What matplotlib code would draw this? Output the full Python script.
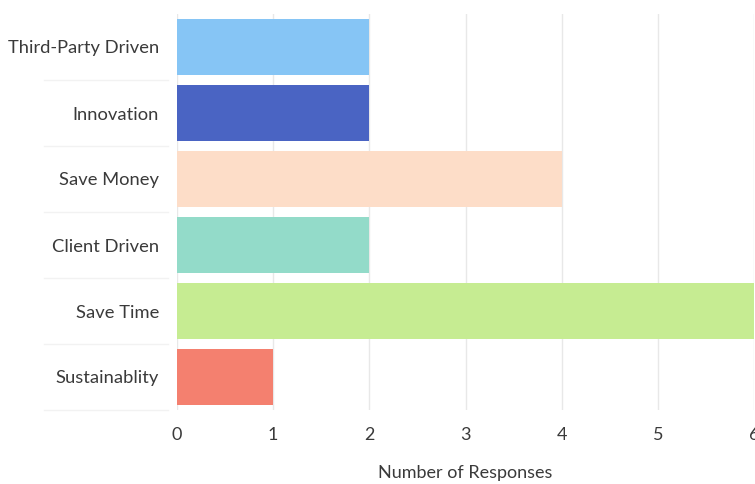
import matplotlib.pyplot as plt
import matplotlib.transforms as mtransforms

categories = ["Third-Party Driven", "Innovation", "Save Money", "Client Driven", "Save Time", "Sustainablity"]
responses = [2, 2, 4, 2, 6, 1]
colors = ["#86C5F5", "#4A64C3", "#FDDDC8", "#93DBC9", "#C6EC92", "#F4806F"]

plt.rcParams['font.family'] = ['Lato', 'DejaVu Sans']

fig = plt.figure(figsize=(7.55, 4.84), dpi=100)
ax = fig.add_axes([177/755, 1 - 410/484, 577/755, 396/484])

ypos = list(range(len(categories)))
ax.barh(ypos, responses, height=0.86, color=colors, zorder=2)
ax.set_ylim(len(categories) - 0.5, -0.5)
ax.set_xlim(0, 6)
ax.set_yticks(ypos)
ax.set_yticklabels(categories, fontsize=13.2, color="#3A3A3A")
ax.set_xticks(range(7))
ax.tick_params(axis='x', labelsize=13, labelcolor="#3A3A3A", length=0, pad=12)
ax.tick_params(axis='y', length=0, pad=13)
ax.grid(axis='x', color="#E8E8E8", linewidth=1, zorder=0)
for s in ax.spines.values():
    s.set_visible(False)

# faint separators in the label area
trans = mtransforms.blended_transform_factory(ax.transAxes, ax.transData)
for y in [i + 0.5 for i in range(len(categories))]:
    ax.plot([-0.23, -0.015], [y, y], transform=trans, color="#F2F2F2", linewidth=1, clip_on=False)

ax.set_xlabel("Number of Responses", fontsize=13, color="#3A3A3A", labelpad=16)

fig.savefig("out.png", dpi=100)
